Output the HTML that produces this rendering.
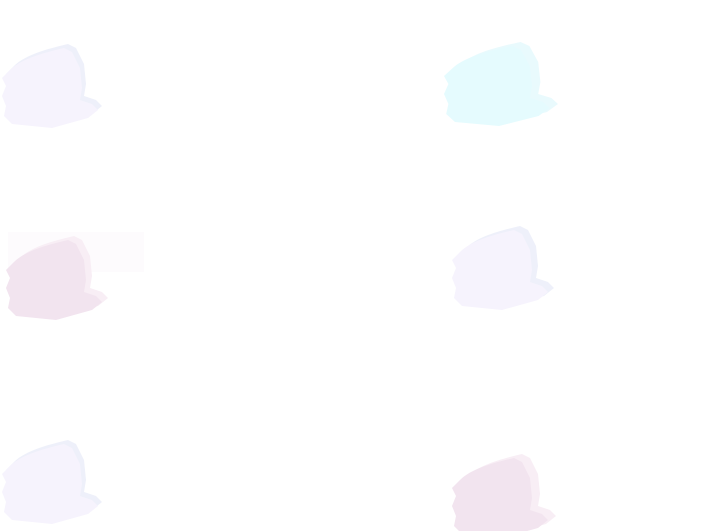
<!DOCTYPE html>
<html><head><meta charset="utf-8"><style>
html,body{margin:0;padding:0;background:#fff;width:719px;height:531px;overflow:hidden}
svg{position:absolute;left:0;top:0}
</style></head><body>
<svg width="719" height="531" viewBox="0 0 719 531">
<defs>
<g id="blob">
<path d="M8,22 C20,10 45,4 62,0 L70,4 L78,20 L80,40 L78,52 L90,56 L96,62 L86,70 L50,80 L30,78 L10,76 L2,68 L4,58 L0,48 L4,38 L0,30 Z"/>
</g>
</defs>
<rect x="8" y="232" width="136" height="40" fill="#fdfbfd"/>
<g fill="#eef0fa" transform="translate(2,46)"><use href="#blob" transform="translate(4,-2)"/></g>
<g fill="#f6f3fd" transform="translate(2,48)"><use href="#blob"/></g>

<g fill="#e9fafd" transform="translate(448,44) scale(1.1,1)"><use href="#blob" transform="translate(4,-2)"/></g>
<g fill="#e5fbfe" transform="translate(444,46) scale(1.1,1)"><use href="#blob"/></g>

<g fill="#f8eef5" transform="translate(8,238)"><use href="#blob" transform="translate(4,-2)"/></g>
<g fill="#f2e4ef" transform="translate(6,240)"><use href="#blob"/></g>

<g fill="#eef0fa" transform="translate(454,228)"><use href="#blob" transform="translate(4,-2)"/></g>
<g fill="#f6f3fd" transform="translate(452,230)"><use href="#blob"/></g>

<g fill="#eef0fa" transform="translate(2,442)"><use href="#blob" transform="translate(4,-2)"/></g>
<g fill="#f6f3fd" transform="translate(2,444)"><use href="#blob"/></g>

<g fill="#f8eef5" transform="translate(456,456)"><use href="#blob" transform="translate(4,-2)"/></g>
<g fill="#f2e4ef" transform="translate(452,458)"><use href="#blob"/></g>
</svg>
</body></html>
